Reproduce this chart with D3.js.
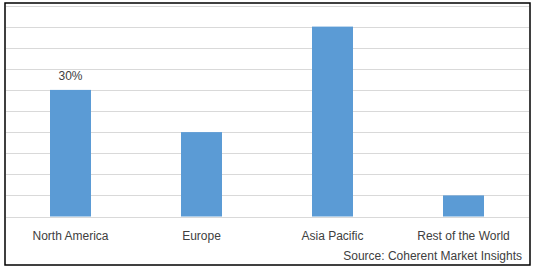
<!DOCTYPE html>
<html>
<head>
<meta charset="utf-8">
<script src="https://cdn.jsdelivr.net/npm/d3@7"></script>
<style>
  body { margin: 0; background: #fff; }
  text { font-family: "Liberation Sans", Arial, sans-serif; }
</style>
</head>
<body>
<div id="chart"></div>
<script>
// data (share of market, %)
var regions = ["North America", "Europe", "Asia Pacific", "Rest of the World"];
var shares = [30, 20, 45, 5];
var gridTicks = [0, 5, 10, 15, 20, 25, 30, 35, 40, 45, 50];
var shownLabels = ["North America"]; // only one value label is printed

var width = 538, height = 272;

var svg = d3.select("#chart").append("svg")
  .attr("width", width)
  .attr("height", height);

var x = d3.scaleBand()
  .domain(regions)
  .range([5, 529])
  .paddingInner(0.687)
  .paddingOuter(0.3435);

var y = d3.scaleLinear()
  .domain([0, 50])
  .range([216.5, 5.5]);

// gridlines
svg.append("g")
  .selectAll("line")
  .data(gridTicks)
  .enter()
  .append("line")
  .attr("x1", 6)
  .attr("x2", 529)
  .attr("y1", function(d){ return Math.round(y(d)) + 0.5; })
  .attr("y2", function(d){ return Math.round(y(d)) + 0.5; })
  .style("stroke", "#d9d9d9")
  .style("stroke-width", 1.2);

// bars
svg.append("g")
  .selectAll("rect")
  .data(shares)
  .enter()
  .append("rect")
  .attr("x", function(d, i){ return x(regions[i]); })
  .attr("y", function(d){ return y(d); })
  .attr("width", x.bandwidth())
  .attr("height", function(d){ return y(0) - y(d); })
  .style("fill", "#5b9bd5");

// value label
svg.append("g")
  .selectAll("text")
  .data(shares.filter(function(d, i){ return shownLabels.indexOf(regions[i]) >= 0; }))
  .enter()
  .append("text")
  .attr("x", function(d, i){ return x(shownLabels[i]) + x.bandwidth() / 2; })
  .attr("y", function(d){ return y(d) - 9.5; })
  .attr("text-anchor", "middle")
  .attr("font-size", "12px")
  .attr("fill", "#404040")
  .text(function(d){ return d + "%"; });

// category axis
var xAxis = svg.append("g")
  .attr("transform", "translate(0," + 216.5 + ")")
  .call(d3.axisBottom(x).tickSize(0).tickPadding(15));
xAxis.select(".domain").remove();
xAxis.selectAll("text")
  .attr("font-size", "12px")
  .attr("font-family", "Liberation Sans, Arial, sans-serif")
  .attr("fill", "#404040");

// source
svg.append("text")
  .attr("x", 522)
  .attr("y", 259.5)
  .attr("text-anchor", "end")
  .attr("font-size", "12px")
  .attr("fill", "#404040")
  .text("Source: Coherent Market Insights");

// outer border
svg.append("rect")
  .attr("x", 5)
  .attr("y", 3)
  .attr("width", 525)
  .attr("height", 262)
  .style("fill", "none")
  .style("stroke", "#000")
  .style("stroke-width", 1.5);
</script>
</body>
</html>
